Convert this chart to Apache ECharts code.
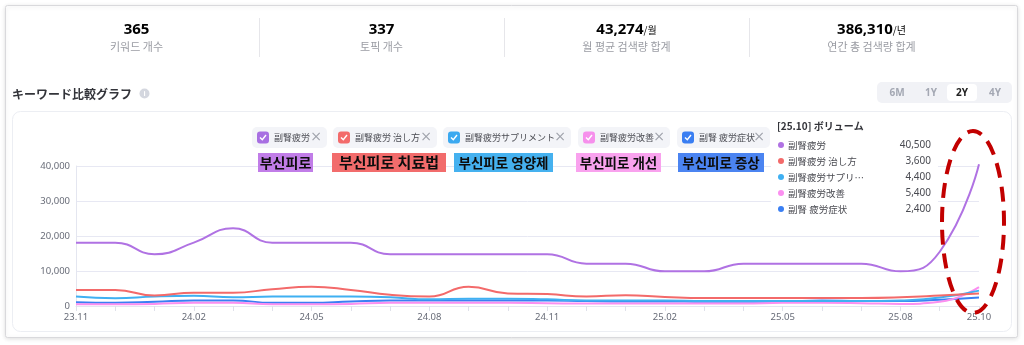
<!DOCTYPE html>
<html>
<head>
<meta charset="utf-8">
<script src="https://cdn.jsdelivr.net/npm/echarts@6/dist/echarts.min.js"></script>
<style>
html,body{margin:0;padding:0;background:#fff;}
#c{width:1024px;height:345px;}
</style>
</head>
<body>
<div id="c"></div>
<script>
// ---- data ----
const months = ['23.11','23.12','24.01','24.02','24.03','24.04','24.05','24.06','24.07','24.08','24.09','24.10','24.11','24.12','25.01','25.02','25.03','25.04','25.05','25.06','25.07','25.08','25.09','25.10'];
const xTickLabels = ['23.11','24.02','24.05','24.08','24.11','25.02','25.05','25.08','25.10'];
const seriesNames = ['副腎疲労','副腎疲労 治し方','副腎疲労サプリメント','副腎疲労改善','副腎 疲労症状'];
const vFatigue   = [18100,18100,14800,18100,22200,18100,18100,18100,14800,14800,14800,14800,14800,12100,12100,9900,9900,12100,12100,12100,12100,9900,15500,40500];
const vCure      = [4600,4600,3000,3800,3800,4800,5500,4600,3200,2700,5500,3600,3400,2700,3100,2600,2300,2300,2300,2300,2300,2500,3000,3600];
const vSupplement= [2700,2200,2700,2900,2500,2700,2700,2700,2500,1900,2100,2100,1900,1600,1600,1600,1400,1400,1400,1400,1400,1600,2400,4400];
const vImprove   = [500,500,600,900,900,500,500,600,900,900,900,900,800,700,700,700,700,700,900,900,800,600,1200,5400];
const vSymptom   = [1100,900,1200,1600,1600,900,900,1300,1600,1600,1600,1600,1600,1400,1300,1300,1200,1200,1200,1600,1400,1400,1800,2400];
const yMax = 40000, yStep = 10000;
const statValues = ['365','337','43,274','386,310'];
const statUnits  = ['','','/월','/년'];
const statLabels = ['키워드 개수','토픽 개수','월 평균 검색량 합계','연간 총 검색량 합계'];
const annoTexts  = ['부신피로','부신피로 치료법','부신피로 영양제','부신피로 개선','부신피로 증상'];
const periods    = ['6M','1Y','2Y','4Y'];
const selectedPeriod = '2Y';
const titleText  = 'キーワード比較グラフ';
const panelTitle = '[25.10] ボリューム';

// ---- style ----
const lineColors = ['#b072e3','#f36a6a','#3fb0f2','#fb8ff0','#3a7ff3'];
const boxColors  = ['#a86fe2','#f36b6b','#3ba9f0','#f690ec','#3a7ef2'];
const annoColors = ['#c17de8','#f26c6c','#45b1ef','#f9a2ee','#4b84f1'];
const allValues = [vFatigue, vCure, vSupplement, vImprove, vSymptom];
const CJK = '"Noto Sans CJK JP","Noto Sans",sans-serif';
const KR = '"Noto Sans CJK KR","Noto Sans",sans-serif';

const g = [];
function txt(x, y, text, font, fill, align, z) {
  g.push({type:'text', x:x, y:y, z: z||50, style:{text:text, font:font, fill:fill,
    align:align||'left', verticalAlign:'middle', textAlign:align||'left', textVerticalAlign:'middle'}});
}
function rect(x,y,w,h,fill,stroke,r,z,extra){
  const o = {type:'rect', z: z||0, shape:{x:x,y:y,width:w,height:h,r:r||0}, style:Object.assign({fill:fill, stroke:stroke||null, lineWidth:1}, extra||{})};
  g.push(o);
}
// outer card
rect(5.5,5.5,1012,332,'#ffffff','#d9d9dc',2,-20,{shadowBlur:4,shadowColor:'rgba(0,0,0,0.12)',shadowOffsetY:1});
// stats
const colW = 245, col0 = 14;
statValues.forEach((v,i)=>{
  const cx = col0 + colW*i + colW/2;
  g.push({type:'text', x:cx, y:30, z:50, style:{text:'{a|'+v+'}{b|'+statUnits[i]+'}', rich:{
    a:{fontWeight:'bold', fontSize:15, fontFamily:'Noto Sans', color:'#25262b'},
    b:{fontSize:10, fontFamily:'Noto Sans CJK KR', color:'#555'}},
    align:'center', verticalAlign:'middle', textAlign:'center', textVerticalAlign:'middle'}});
  txt(cx, 47, statLabels[i], '11px '+KR, '#9a9ca3', 'center');
  if (i>0) g.push({type:'line', z:50, shape:{x1:col0+colW*i+0.5,y1:18,x2:col0+colW*i+0.5,y2:57}, style:{stroke:'#e6e6ea',lineWidth:1}});
});
// title
txt(12, 94, titleText, 'bold 12px '+CJK, '#33343a', 'left');
g.push({type:'circle', z:50, shape:{cx:144.5,cy:93.5,r:5}, style:{fill:'#d4d7df'}});
txt(144.5, 93.5, 'i', 'bold 7px "Noto Sans"', '#ffffff', 'center', 51);
// period buttons
rect(877,82,135,21,'#f1f2f6',null,5,40);
const pX = [897,931,962,995];
periods.forEach((p,i)=>{
  if (p===selectedPeriod) rect(pX[i]-15,84,30,17,'#ffffff',null,4,41);
  txt(pX[i], 93, p, 'bold 10px "Noto Sans"', p===selectedPeriod?'#222':'#a4a8b3', 'center', 42);
});
// chart card
rect(12.5,111.5,999,220,'#ffffff','#eceef3',8,-10);
// legend chips
const chipX = [[252,327],[333,437],[443,571],[578,670],[677,770]];
seriesNames.forEach((n,i)=>{
  const x0 = chipX[i][0], x1 = chipX[i][1];
  rect(x0,127,x1-x0,21,'#f3f4f8',null,5,40);
  rect(x0+5,131.5,12,12,boxColors[i],null,3,41);
  g.push({type:'polyline', z:42, shape:{points:[[x0+8,137.5],[x0+10.3,139.8],[x0+14,135]]}, style:{stroke:'#fff',lineWidth:1.4,fill:null}});
  txt(x0+22, 138, n, '9px '+CJK, '#4a4b52', 'left', 42);
  txt(x1-5, 137.5, '×', '14px "DejaVu Sans"', '#a0a3ac', 'right', 42);
});
// Korean annotation labels
const annoX = [[258,313],[332,446],[454,553],[576,661],[678,764]];
const annoSize = [14,15,13.5,13.5,13.5];
annoTexts.forEach((t,i)=>{
  const x0 = annoX[i][0], x1 = annoX[i][1];
  rect(x0,153,x1-x0,19,annoColors[i],null,0,60);
  txt((x0+x1)/2, 162.5, t, 'bold '+annoSize[i]+'px '+KR, '#0d0d0d', 'center', 61);
});
// value panel
rect(771,116,167,102,'#ffffff',null,0,30);
txt(777, 126, panelTitle, 'bold 10px '+CJK, '#33343a', 'left', 45);
const rowY = [145,161,177,193,209];
seriesNames.forEach((n,i)=>{
  g.push({type:'circle', z:45, shape:{cx:781,cy:rowY[i],r:3}, style:{fill:lineColors[i]}});
  const dn = n.length>8 ? n.slice(0,7)+'…' : n;
  txt(788, rowY[i], dn, '9.5px '+CJK, '#4a4b52', 'left', 45);
  const last = allValues[i][allValues[i].length-1];
  txt(931, rowY[i], last.toLocaleString('en-US'), '10px "Noto Sans"', '#4a4b52', 'right', 45);
});
// red dashed ellipse
g.push({type:'ellipse', z:80, shape:{cx:973,cy:222,rx:31,ry:91}, style:{fill:null, stroke:'#c20000', lineWidth:4, lineDash:[15,9]}});

const chart = echarts.init(document.getElementById('c'), null, {renderer:'canvas'});
chart.setOption({
  animation:false,
  backgroundColor:'#ffffff',
  textStyle:{fontFamily:'"Noto Sans","Noto Sans CJK JP",sans-serif'},
  grid:{left:76,right:45,top:166,bottom:39,containLabel:false},
  xAxis:{type:'category', data:months, boundaryGap:false,
    axisLine:{show:true, lineStyle:{color:'#e4e6f0'}},
    axisTick:{show:true, interval:0, length:5, lineStyle:{color:'#dfe1ea'}},
    axisLabel:{interval:(idx,val)=>xTickLabels.indexOf(val)>=0, fontSize:9.5, color:'#686c78', margin:7, hideOverlap:false},
    splitLine:{show:false}},
  yAxis:{type:'value', min:0, max:yMax, interval:yStep,
    axisLine:{show:true, lineStyle:{color:'#e4e6f0'}},
    axisTick:{show:false},
    axisLabel:{fontSize:9.5, color:'#686c78', margin:6, formatter:v=>v.toLocaleString('en-US')},
    splitLine:{lineStyle:{color:'#e7e8f3'}}},
  series: allValues.map((d,i)=>({
    type:'line', name:seriesNames[i], data:d, smooth:0.5, symbol:'none', clip:false,
    lineStyle:{color:lineColors[i], width:2}, itemStyle:{color:lineColors[i]}, z: 10-i
  })),
  graphic:{elements:g}
});
</script>
</body>
</html>
